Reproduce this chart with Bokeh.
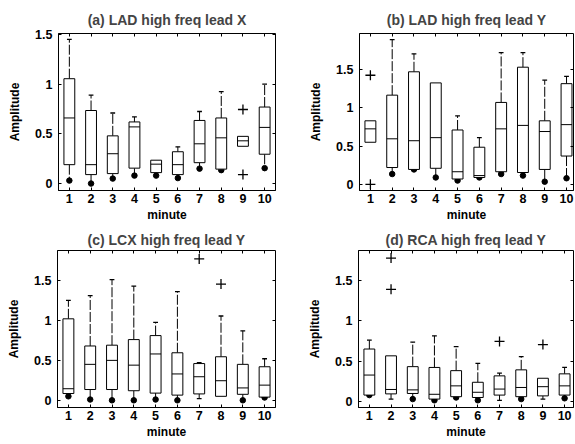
from bokeh.plotting import figure
from bokeh.layouts import column, row
from bokeh.models import FixedTicker, LinearAxis, Range1d, CustomJSTickFormatter
from bokeh.embed import file_html
from bokeh.resources import INLINE

minutes = [1, 2, 3, 4, 5, 6, 7, 8, 9, 10]

# (a) LAD high freq lead X
a_lo = [0.03, 0.00, 0.05, 0.08, 0.08, 0.055, 0.15, 0.135, 0.375, 0.155]
a_q1 = [0.19, 0.09, 0.10, 0.155, 0.11, 0.09, 0.21, 0.145, 0.375, 0.295]
a_med = [0.66, 0.19, 0.30, 0.57, 0.195, 0.19, 0.40, 0.46, 0.43, 0.565]
a_q3 = [1.055, 0.735, 0.48, 0.62, 0.235, 0.32, 0.635, 0.66, 0.475, 0.77]
a_hi = [1.45, 0.89, 0.71, 0.67, 0.235, 0.37, 0.725, 0.925, 0.475, 1.0]
a_dot = [1, 1, 1, 1, 1, 1, 1, 1, 0, 1]
a_out_x = [9, 9]
a_out_y = [0.745, 0.09]

# (b) LAD high freq lead Y
b_lo = [0.55, 0.135, 0.195, 0.09, 0.05, 0.09, 0.135, 0.115, 0.035, 0.08]
b_q1 = [0.55, 0.22, 0.195, 0.21, 0.07, 0.09, 0.165, 0.155, 0.195, 0.37]
b_med = [0.725, 0.595, 0.57, 0.61, 0.165, 0.115, 0.725, 0.77, 0.69, 0.78]
b_q3 = [0.83, 1.165, 1.47, 1.325, 0.71, 0.485, 1.07, 1.53, 0.83, 1.315]
b_hi = [0.83, 1.89, 1.705, 1.325, 0.895, 0.61, 1.72, 1.72, 1.36, 1.41]
b_dot = [0, 1, 1, 1, 1, 1, 1, 1, 1, 1]
b_out_x = [1, 1]
b_out_y = [1.425, 0.0]

# (c) LCX high freq lead Y
c_lo = [0.05, 0.01, 0.0, 0.0, 0.01, 0.0, 0.02, 0.05, 0.0, 0.035]
c_q1 = [0.085, 0.135, 0.135, 0.12, 0.09, 0.065, 0.08, 0.05, 0.075, 0.04]
c_med = [0.145, 0.45, 0.50, 0.44, 0.58, 0.33, 0.295, 0.245, 0.155, 0.19]
c_q3 = [1.02, 0.68, 0.69, 0.76, 0.81, 0.595, 0.46, 0.545, 0.45, 0.42]
c_hi = [1.25, 1.31, 1.51, 1.43, 0.975, 1.36, 0.47, 1.055, 0.87, 0.52]
c_dot = [1, 1, 1, 1, 1, 1, 0, 0, 1, 1]
c_out_x = [7, 8]
c_out_y = [1.77, 1.455]

# (d) RCA high freq lead Y
d_lo = [0.075, 0.025, 0.025, 0.01, 0.045, 0.01, 0.01, 0.025, 0.025, 0.035]
d_q1 = [0.075, 0.09, 0.095, 0.025, 0.055, 0.045, 0.075, 0.055, 0.065, 0.075]
d_med = [0.325, 0.145, 0.14, 0.085, 0.19, 0.11, 0.15, 0.17, 0.18, 0.19]
d_q3 = [0.65, 0.565, 0.43, 0.42, 0.38, 0.235, 0.315, 0.39, 0.285, 0.34]
d_hi = [0.76, 0.565, 0.735, 0.815, 0.68, 0.47, 0.35, 0.555, 0.285, 0.42]
d_dot = [1, 0, 1, 1, 1, 1, 0, 1, 0, 1]
d_out_x = [2, 2, 7, 9]
d_out_y = [1.785, 1.395, 0.745, 0.705]

FONT = "Liberation Sans"
BOX_W = 0.5
CAP_W = 0.22


def panel(title, lo, q1, med, q3, hi, dot, ox, oy, yr, yticks,
          bl, fw, br, bt, fh, bb, xend, tstand):
    p = figure(frame_width=fw, frame_height=fh,
               min_border_left=bl, min_border_right=br,
               min_border_top=bt, min_border_bottom=bb,
               x_range=Range1d(0.5, xend), y_range=Range1d(*yr),
               output_backend="svg", toolbar_location=None,
               background_fill_color="white", border_fill_color="white")
    p.outline_line_color = "black"
    p.outline_line_width = 1
    p.xgrid.visible = False
    p.ygrid.visible = False
    p.title.text = title
    p.title.align = "center"
    p.title.text_font = FONT
    p.title.text_font_style = "bold"
    p.title.text_font_size = "14px"
    p.title.standoff = tstand
    p.title.offset = 0

    fmt = CustomJSTickFormatter(code="return tick.toString();")
    p.xaxis.ticker = FixedTicker(ticks=minutes)
    p.yaxis.ticker = FixedTicker(ticks=yticks)
    p.yaxis.formatter = fmt
    for ax in (p.xaxis[0], p.yaxis[0]):
        ax.major_tick_in = 3
        ax.major_tick_out = 0
        ax.minor_tick_in = 0
        ax.minor_tick_out = 0
        ax.axis_line_color = "black"
        ax.major_label_text_font = FONT
        ax.major_label_text_font_style = "bold"
        ax.major_label_text_font_size = "12.5px"
        ax.major_label_text_color = "black"
        ax.axis_label_text_font = FONT
        ax.axis_label_text_font_style = "bold"
        ax.axis_label_text_color = "black"
        ax.axis_label_text_font_size = "12px"
    p.xaxis.axis_label = "minute"
    p.yaxis.axis_label = "Amplitude"
    p.xaxis.major_label_standoff = 3
    p.xaxis.axis_label_standoff = 2
    p.yaxis.major_label_standoff = 6
    p.yaxis.axis_label_standoff = 10

    # box-style ticks on top and right edges (no labels)
    top = LinearAxis(ticker=FixedTicker(ticks=minutes))
    right = LinearAxis(ticker=FixedTicker(ticks=yticks))
    for ax in (top, right):
        ax.major_tick_in = 3
        ax.major_tick_out = 0
        ax.minor_tick_in = 0
        ax.minor_tick_out = 0
        ax.major_label_text_font_size = "0px"
        ax.major_label_text_color = None
        ax.major_label_standoff = 0
        ax.axis_line_color = None
    p.add_layout(top, "above")
    p.add_layout(right, "right")

    px = fw / (xend - 0.5)
    # whiskers
    ux = [m for m, a, b in zip(minutes, q3, hi) if b > a]
    uy0 = [a for a, b in zip(q3, hi) if b > a]
    uy1 = [b for a, b in zip(q3, hi) if b > a]
    p.segment(x0=ux, y0=uy0, x1=ux, y1=uy1, line_color="black",
              line_width=1, line_dash="10 2")
    p.scatter(x=ux, y=uy1, marker="dash", size=CAP_W * px,
              line_color="black", line_width=1.3)
    lx = [m for m, a, b in zip(minutes, lo, q1) if a < b]
    ly0 = [b for a, b in zip(lo, q1) if a < b]
    ly1 = [a for a, b in zip(lo, q1) if a < b]
    p.segment(x0=lx, y0=ly0, x1=lx, y1=ly1, line_color="black",
              line_width=1, line_dash="10 2")
    cx = [m for m, a, b, d in zip(minutes, lo, q1, dot) if a < b and not d]
    cy = [a for a, b, d in zip(lo, q1, dot) if a < b and not d]
    p.scatter(x=cx, y=cy, marker="dash", size=CAP_W * px,
              line_color="black", line_width=1.3)
    dx = [m for m, d in zip(minutes, dot) if d]
    dy = [a for a, d in zip(lo, dot) if d]
    p.scatter(x=dx, y=dy, size=5.5, marker="circle", fill_color="black",
              line_color="black")

    # boxes
    p.quad(left=[m - BOX_W / 2 for m in minutes],
           right=[m + BOX_W / 2 for m in minutes],
           bottom=q1, top=q3, fill_color="white", line_color="black",
           line_width=1)
    p.segment(x0=[m - BOX_W / 2 for m in minutes], y0=med,
              x1=[m + BOX_W / 2 for m in minutes], y1=med,
              line_color="black", line_width=1)
    # outliers
    p.scatter(x=ox, y=oy, marker="cross", size=10, line_color="black",
              line_width=1.3)
    return p


yt = [0, 0.5, 1, 1.5]
pa = panel("(a) LAD high freq lead X", a_lo, a_q1, a_med, a_q3, a_hi, a_dot,
           a_out_x, a_out_y, (-0.07, 1.51), yt,
           58, 217, 10, 33, 157, 33, 10.5, 11)
pb = panel("(b) LAD high freq lead Y", b_lo, b_q1, b_med, b_q3, b_hi, b_dot,
           b_out_x, b_out_y, (-0.08, 1.97), yt,
           74, 214, 2, 32, 157, 34, 10.32, 11)
pc = panel("(c) LCX high freq lead Y", c_lo, c_q1, c_med, c_q3, c_hi, c_dot,
           c_out_x, c_out_y, (-0.09, 1.875), yt,
           57, 218, 10, 26, 157, 38, 10.5, 6)
pd = panel("(d) RCA high freq lead Y", d_lo, d_q1, d_med, d_q3, d_hi, d_dot,
           d_out_x, d_out_y, (-0.08, 1.88), yt,
           73, 215, 2, 26, 157, 38, 10.41, 6)

layout = column(row(pa, pb), row(pc, pd))
open("out.html", "w").write(file_html(layout, INLINE))
